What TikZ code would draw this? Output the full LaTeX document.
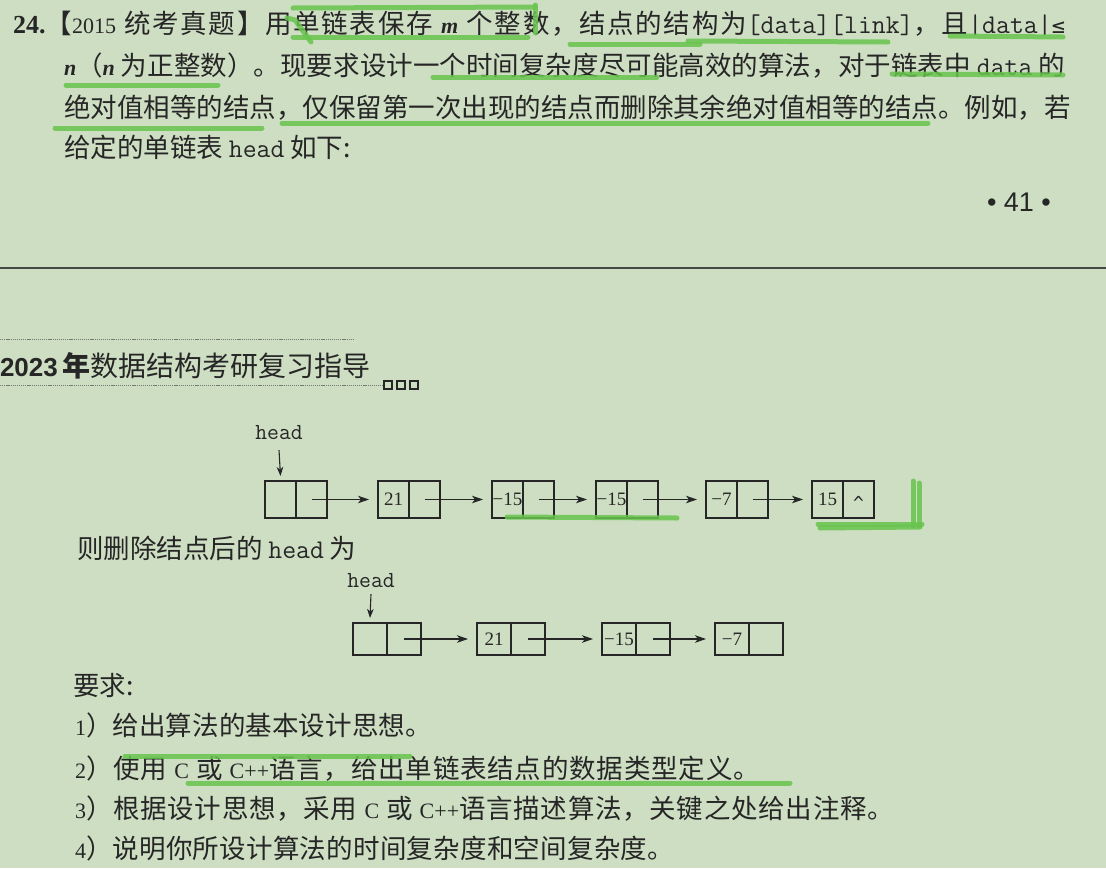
\documentclass[tikz,border=0pt]{standalone}
\usepackage{fontspec}
\usetikzlibrary{arrows.meta}
\setmainfont{Noto Sans CJK SC}
\newfontfamily\lat{Liberation Serif}
\newfontfamily\sfl{Liberation Sans}
\newfontfamily\dvm{DejaVu Sans Mono}
% inter-character glue so that CJK lines can be justified
\XeTeXinterchartokenstate=1
\newcount\cjkcc
\cjkcc="3000 \loop \XeTeXcharclass\cjkcc=5 \advance\cjkcc by 1 \ifnum\cjkcc<"3040 \repeat
\cjkcc="4E00 \loop \XeTeXcharclass\cjkcc=5 \advance\cjkcc by 1 \ifnum\cjkcc<"A000 \repeat
\cjkcc="FF00 \loop \XeTeXcharclass\cjkcc=5 \advance\cjkcc by 1 \ifnum\cjkcc<"FF60 \repeat
\XeTeXinterchartoks 5 5 = {\hskip 0pt plus 2pt\relax}
\XeTeXinterchartoks 0 5 = {\hskip 0pt plus 2pt\relax}
\XeTeXinterchartoks 5 0 = {\hskip 0pt plus 2pt\relax}
\newcommand\bodyfnt{\fontsize{26.5pt}{30pt}\selectfont}
\newcommand\latf{\lat\fontsize{22pt}{26pt}\selectfont}
\newcommand\monof{\ttfamily\fontsize{27pt}{28pt}\selectfont}
\newcommand\cellfnt{\lat\fontsize{19pt}{20pt}\selectfont}
\definecolor{bgc}{RGB}{206,222,195}
\definecolor{ink}{RGB}{38,38,38}
\definecolor{hlc}{RGB}{104,196,78}
\definecolor{rulec}{RGB}{70,72,70}
\definecolor{dotc}{RGB}{115,120,112}
\begin{document}
\begin{tikzpicture}[x=1pt,y=-1pt,
  every node/.style={inner sep=0pt, outer sep=0pt, text=ink},
  txt/.style={anchor=base west, font=\bodyfnt},
  cellA/.style={draw=ink, line width=1.1pt, minimum width=31pt, minimum height=37pt, anchor=north west, font=\cellfnt},
  cellB/.style={draw=ink, line width=1.1pt, minimum width=34pt, minimum height=32pt, anchor=north west, font=\cellfnt},
  arr/.style={draw=ink, line width=1.1pt, -{Stealth[length=11pt, width=7.5pt, inset=3pt]}},
  harr/.style={draw=ink, line width=1.1pt, -{Stealth[length=9pt, width=6.5pt, inset=2.5pt]}},
  headlbl/.style={font=\ttfamily\fontsize{23pt}{24pt}\selectfont},
  hl/.style={draw=hlc, line width=5pt, line cap=round, opacity=0.85}]
\useasboundingbox (0,0) rectangle (1106,868);
\fill[bgc] (0,0) rectangle (1106,868);

% ---------- top question text ----------
\node[txt] (l1) at (13,33) {\makebox[1052pt][s]{{\lat\bfseries\fontsize{26pt}{30pt}\selectfont 24.}【{\latf 2015} 统考真题】用单链表保存 {\latf\bfseries\itshape m} 个整数，结点的结构为{\monof [data][link]}，且{\monof |data|}{\dvm\fontsize{22pt}{26pt}\selectfont ≤}}};
\node[txt] (l2) at (64,75) {\makebox[1001pt][s]{{\latf\bfseries\itshape n}（{\latf\bfseries\itshape n} 为正整数）。现要求设计一个时间复杂度尽可能高效的算法，对于链表中 {\monof data} 的}};
\node[txt] (l3) at (64,117) {\makebox[1001pt][s]{绝对值相等的结点，仅保留第一次出现的结点而删除其余绝对值相等的结点。例如，若}};
\node[txt] (l4) at (64,157) {给定的单链表 {\monof head} 如下:};

\node (pg) at (1019,202) {\sfl\fontsize{27pt}{30pt}\selectfont • 41 •};
\draw[rulec, line width=1.3pt] (0,268) -- (1106,268);

% ---------- running header ----------
\draw[dotc, line width=0.8pt, dash pattern=on 1.2pt off 0.9pt] (0,339) -- (354,339);
\node[anchor=base west] (hdr) at (0,376) {\makebox[354pt][s]{{\sfl\bfseries\fontsize{26pt}{30pt}\selectfont 2023 }{\bfseries\fontsize{28pt}{30pt}\selectfont 年}\fontsize{28pt}{30pt}\selectfont 数据结构考研复习指导}};
\draw[dotc, line width=0.8pt, dash pattern=on 1.2pt off 0.9pt] (0,385) -- (383,385);
\draw[ink, line width=1.4pt] (384,381) rectangle (392,389) (397,381) rectangle (405,389) (410,381) rectangle (418,389);

% ---------- first list ----------
\node[headlbl] (h1) at (279,433) {head};
\node[cellA] (a0d) at (265,481) {};  \node[cellA] (a0l) at (296,481) {};
\node[cellA] (a1d) at (378,481) {21}; \node[cellA] (a1l) at (409,481) {};
\node[cellA] (a2d) at (492,481) {−15}; \node[cellA] (a2l) at (523,481) {};
\node[cellA] (a3d) at (596,481) {−15}; \node[cellA] (a3l) at (627,481) {};
\node[cellA] (a4d) at (706,481) {−7}; \node[cellA] (a4l) at (737,481) {};
\node[cellA] (a5d) at (812,481) {15}; \node[cellA] (a5l) at (843,481) {\raisebox{-9.5pt}[0pt][0pt]{\dvm\fontsize{18pt}{18pt}\selectfont\symbol{"5E}}};
\draw[harr] ([yshift=-10pt]h1.south) -- ([yshift=5pt]a0d.north);
\draw[arr] (a0l.center) -- ([xshift=-9pt]a1d.west);
\draw[arr] (a1l.center) -- ([xshift=-9pt]a2d.west);
\draw[arr] (a2l.center) -- ([xshift=-9pt]a3d.west);
\draw[arr] (a3l.center) -- ([xshift=-9pt]a4d.west);
\draw[arr] (a4l.center) -- ([xshift=-9pt]a5d.west);

\node[txt] (l5) at (77,558) {则删除结点后的 {\monof head} 为};

% ---------- second list ----------
\node[headlbl] (h2) at (371,581) {head};
\node[cellB] (c0d) at (353,623) {};  \node[cellB] (c0l) at (387,623) {};
\node[cellB] (c1d) at (477,623) {21}; \node[cellB] (c1l) at (511,623) {};
\node[cellB] (c2d) at (602,623) {−15}; \node[cellB] (c2l) at (636,623) {};
\node[cellB] (c3d) at (715,623) {−7}; \node[cellB] (c3l) at (749,623) {};
\draw[harr] ([yshift=-6pt]h2.south) -- ([yshift=5pt]c0d.north);
\draw[arr] (c0l.center) -- ([xshift=-9pt]c1d.west);
\draw[arr] (c1l.center) -- ([xshift=-9pt]c2d.west);
\draw[arr] (c2l.center) -- ([xshift=-9pt]c3d.west);

% ---------- requirements ----------
\node[txt] (r0) at (73,695) {要求:};
\node[txt] (r1) at (75,735) {\makebox[357pt][s]{{\latf 1}）给出算法的基本设计思想。}};
\node[txt] (r2) at (75,778) {\makebox[685pt][s]{{\latf 2}）使用 {\latf C} 或 {\latf C++}语言，给出单链表结点的数据类型定义。}};
\node[txt] (r3) at (75,818) {\makebox[819pt][s]{{\latf 3}）根据设计思想，采用 {\latf C} 或 {\latf C++}语言描述算法，关键之处给出注释。}};
\node[txt] (r4) at (75,858) {\makebox[599pt][s]{{\latf 4}）说明你所设计算法的时间复杂度和空间复杂度。}};

% ---------- green marker strokes ----------
\draw[hl] (293,8) -- (535,7);
\draw[hl] (293,37) -- (528,37);
\draw[hl] (535,5) -- (535,33);
\draw[hl] (287,18) -- (295,20) -- (311,42);
\draw[hl] (570,44) -- (700,44);
\draw[hl] (688,41) -- (888,42);
\draw[hl] (950,36) -- (1063,37);
\draw[hl] (66,85) -- (218,85);
\draw[hl] (433,77) -- (657,77);
\draw[hl] (892,74) -- (1063,75);
\draw[hl] (55,128) -- (262,128);
\draw[hl] (282,123) -- (928,123);
\draw[hl] (507,517) -- (677,518);
\draw[hl] (818,524) -- (922,524);
\draw[hl] (820,528) -- (920,527);
\draw[hl] (913,481) -- (913,526);
\draw[hl] (919,483) -- (919,526);
\draw[hl] (125,756) -- (410,756);
\draw[hl] (188,783) -- (790,783);
\end{tikzpicture}
\end{document}
